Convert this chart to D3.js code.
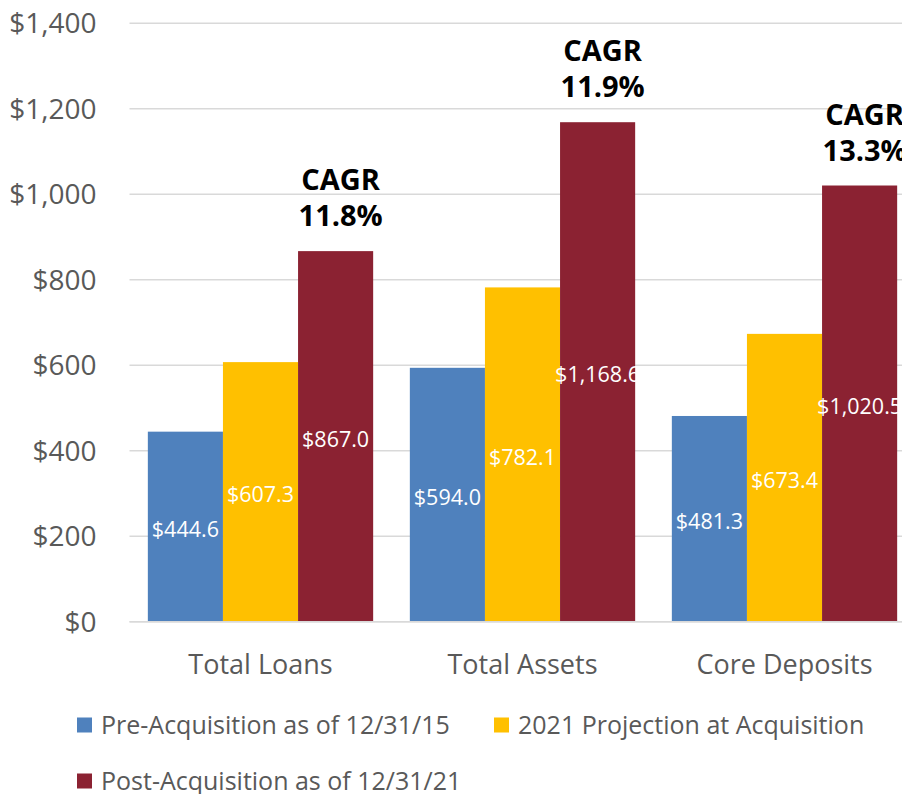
<!DOCTYPE html>
<html>
<head>
<meta charset="utf-8">
<script src="https://cdn.jsdelivr.net/npm/d3@7"></script>
<style>
  body { margin: 0; background: #fff; }
  svg { display: block; font-family: "Open Sans", "Noto Sans", sans-serif; }
</style>
</head>
<body>
<div id="chart"></div>
<script>
// chart data
const categories = ["Total Loans", "Total Assets", "Core Deposits"];
const seriesNames = ["Pre-Acquisition as of 12/31/15", "2021 Projection at Acquisition", "Post-Acquisition as of 12/31/21"];
const preAcquisition = [444.6, 594.0, 481.3];
const projection2021 = [607.3, 782.1, 673.4];
const postAcquisition = [867.0, 1168.6, 1020.5];
const cagrLabels = ["11.8%", "11.9%", "13.3%"];
const yTicks = [0, 200, 400, 600, 800, 1000, 1200, 1400];

const colors = ["#4F81BD", "#FFC000", "#8B2232"];

const width = 902, height = 794;
const margin = {top: 23.3, bottom: 172.3, left: 129.5, right: -13.5};

const svg = d3.select("#chart").append("svg")
    .attr("width", width)
    .attr("height", height);

const seriesValues = [preAcquisition, projection2021, postAcquisition];
const rows = categories.map((c, i) => ({
    category: c,
    values: seriesValues.map((s, j) => ({series: j, value: s[i]})),
    cagr: cagrLabels[i]
}));

// scales
const scaleX = d3.scaleBand(categories, [margin.left, width - margin.right])
    .paddingInner(0.14).paddingOuter(0.07);
const scaleSeries = d3.scaleBand([0, 1, 2], [0, scaleX.bandwidth()]);
const scaleY = d3.scaleLinear([0, 1400], [height - margin.bottom, margin.top]);

// gridlines
svg.append("g")
    .selectAll("line")
    .data(yTicks)
    .join("line")
    .attr("x1", margin.left)
    .attr("x2", width)
    .attr("y1", d => scaleY(d))
    .attr("y2", d => scaleY(d))
    .attr("stroke", "#D9D9D9")
    .attr("stroke-width", 1.5);

// y axis labels
const axisY = svg.append("g")
    .attr("transform", `translate(${margin.left - 30},0)`)
    .call(d3.axisLeft(scaleY).tickValues(yTicks).tickSize(0)
        .tickFormat(d => "$" + d3.format(",")(d)));
axisY.select(".domain").remove();
axisY.selectAll("text")
    .attr("fill", "#595959")
    .attr("dy", "0.34em")
    .style("font-size", "28px")
    .style("font-family", "'Open Sans', sans-serif");

// bars
const groups = svg.append("g")
    .selectAll("g.group")
    .data(rows)
    .join("g")
    .classed("group", true)
    .attr("transform", d => `translate(${scaleX(d.category)},0)`);

groups.selectAll("rect.bar")
    .data(d => d.values)
    .join("rect")
    .classed("bar", true)
    .attr("x", d => scaleSeries(d.series))
    .attr("width", scaleSeries.bandwidth())
    .attr("y", d => scaleY(d.value))
    .attr("height", d => scaleY(0) - scaleY(d.value))
    .attr("fill", d => colors[d.series]);

// value labels, centered inside bars
groups.selectAll("text.value")
    .data(d => d.values)
    .join("text")
    .classed("value", true)
    .attr("x", d => scaleSeries(d.series) + scaleSeries.bandwidth() / 2)
    .attr("y", d => (scaleY(d.value) + scaleY(0)) / 2 + 2)
    .attr("dominant-baseline", "central")
    .attr("text-anchor", "middle")
    .attr("fill", "#fff")
    .style("font-size", "21.5px")
    .text(d => "$" + d3.format(",.1f")(d.value));

// CAGR callouts above the post-acquisition bar
const cagr = groups.append("text")
    .attr("text-anchor", "middle")
    .attr("fill", "#000")
    .style("font-weight", "bold")
    .style("font-size", "29px")
    .attr("transform", d => `translate(${scaleSeries(2) + scaleSeries.bandwidth() / 2 + 5},${scaleY(d.values[2].value)})`);
cagr.append("tspan").attr("x", 0).attr("y", -61).text("CAGR");
cagr.append("tspan").attr("x", 0).attr("y", -25).text(d => d.cagr);

// x axis baseline + labels
svg.append("line")
    .attr("x1", margin.left).attr("x2", width)
    .attr("y1", scaleY(0)).attr("y2", scaleY(0))
    .attr("stroke", "#D9D9D9").attr("stroke-width", 1.5);

const axisX = svg.append("g")
    .attr("transform", `translate(0,${scaleY(0)})`)
    .call(d3.axisBottom(scaleX).tickSize(0).tickPadding(0));
axisX.select(".domain").remove();
axisX.selectAll("text")
    .attr("fill", "#595959")
    .attr("dy", null)
    .attr("y", 52)
    .style("font-size", "27px")
    .style("font-family", "'Open Sans', sans-serif");

// legend
const legendPos = [[77, 725], [494, 725], [77, 781]];
const legend = svg.append("g")
    .selectAll("g")
    .data(seriesNames)
    .join("g")
    .attr("transform", (d, i) => `translate(${legendPos[i][0]},${legendPos[i][1]})`);
legend.append("rect")
    .attr("y", -7.5)
    .attr("width", 15).attr("height", 15)
    .attr("fill", (d, i) => colors[i]);
legend.append("text")
    .attr("x", 24)
    .attr("y", 8.5)
    .attr("fill", "#595959")
    .style("font-size", "25px")
    .text(d => d);
</script>
</body>
</html>
